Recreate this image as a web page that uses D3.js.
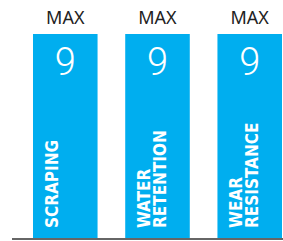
<!DOCTYPE html>
<html>
<head>
<meta charset="utf-8">
<script src="https://cdn.jsdelivr.net/npm/d3@7"></script>
<style>
  body { margin: 0; background: #fff; }
  svg { display: block; }
</style>
</head>
<body>
<svg id="chart" width="283" height="241"></svg>
<script>
// chart data
var categories = ["SCRAPING", "WATER|RETENTION", "WEAR|RESISTANCE"];
var values = [9, 9, 9];
var topLabels = ["MAX", "MAX", "MAX"];
var maxValue = 9;

var svg = d3.select("#chart");
var W = 283, H = 241;
var baseY = 238;

var x = d3.scaleBand()
    .domain(categories)
    .range([33, 282])
    .paddingInner(0.3)
    .paddingOuter(0);

var y = d3.scaleLinear()
    .domain([0, maxValue])
    .range([baseY, 34]);

var data = categories.map(function (c, i) {
    return { cat: c, value: values[i], top: topLabels[i] };
});

// bars
svg.selectAll("rect.bar")
    .data(data)
    .enter().append("rect")
    .attr("class", "bar")
    .attr("x", function (d) { return x(d.cat) })
    .attr("y", function (d) { return y(d.value) })
    .attr("width", x.bandwidth())
    .attr("height", function (d) { return baseY - y(d.value) })
    .attr("fill", "#00aeef");

// baseline
svg.append("line")
    .attr("x1", 12).attr("x2", W)
    .attr("y1", baseY + 1).attr("y2", baseY + 1)
    .attr("stroke", "#666")
    .attr("stroke-width", 2);

// MAX labels above bars
svg.selectAll("text.top")
    .data(data)
    .enter().append("text")
    .attr("class", "top")
    .attr("x", function (d) { return x(d.cat) + x.bandwidth() / 2 })
    .attr("y", function (d) { return y(d.value) - 10 })
    .attr("text-anchor", "middle")
    .attr("font-family", "Noto Sans")
    .attr("font-size", 18)
    .attr("fill", "#222")
    .text(function (d) { return d.top });

// value numbers inside bars
svg.selectAll("text.val")
    .data(data)
    .enter().append("text")
    .attr("class", "val")
    .attr("x", function (d) { return x(d.cat) + x.bandwidth() / 2 })
    .attr("y", function (d) { return y(d.value) + 41 })
    .attr("text-anchor", "middle")
    .attr("font-family", "Roboto")
    .attr("font-weight", 300)
    .attr("font-size", 38)
    .attr("fill", "#fff")
    .text(function (d) { return d.value });

// rotated category names
var lab = svg.selectAll("g.cat")
    .data(data)
    .enter().append("g")
    .attr("class", "cat")
    .attr("transform", function (d) {
        return "translate(" + (x(d.cat) + 11) + "," + (baseY - 10) + ") rotate(-90)";
    });

lab.each(function (d) {
    var lines = d.cat.split("|");
    var t = d3.select(this).append("text")
        .attr("font-family", "DejaVu Sans Condensed")
        .attr("font-weight", "bold")
        .attr("font-size", 17)
        .attr("fill", "#fff");
    lines.forEach(function (l, i) {
        t.append("tspan")
            .attr("x", 0)
            .attr("y", 14 + i * 16)
            .text(l);
    });
});
</script>
</body>
</html>
